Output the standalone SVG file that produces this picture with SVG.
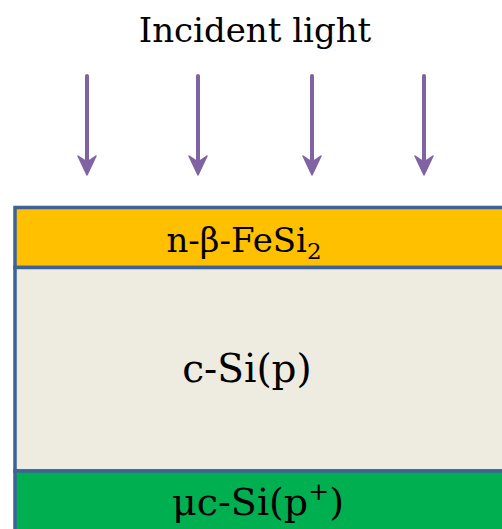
<svg xmlns="http://www.w3.org/2000/svg" width="502" height="529" viewBox="0 0 502 529">
<style>
.ar{stroke:#8064A2;stroke-width:4;fill:none;stroke-linecap:round}
.ah{fill:#8064A2;stroke:#8064A2;stroke-width:1.5;stroke-linejoin:round}
.bd{stroke:#3E6296;stroke-width:3.5}
.t{fill:#000;text-anchor:middle;font-family:'DejaVu Serif',serif}
</style>
<rect width="502" height="529" fill="#fff"/>
<text class="t" x="255" y="42" font-size="34">Incident light</text>
<g id="arrows">
<g id="a1"><line class="ar" x1="87" y1="76" x2="87" y2="166"/><path class="ah" d="M78,156 L87,175 L96,156 L87,162 Z"/></g>
<g id="a2"><line class="ar" x1="198" y1="76" x2="198" y2="166"/><path class="ah" d="M189,156 L198,175 L207,156 L198,162 Z"/></g>
<g id="a3"><line class="ar" x1="312" y1="76" x2="312" y2="166"/><path class="ah" d="M303,156 L312,175 L321,156 L312,162 Z"/></g>
<g id="a4"><line class="ar" x1="424" y1="76" x2="424" y2="166"/><path class="ah" d="M415,156 L424,175 L433,156 L424,162 Z"/></g>
</g>
<g id="n-FeSi2">
<rect x="15" y="207.5" width="500" height="60" fill="#FFC000" class="bd"/>
<text class="t" x="244" y="252" font-size="34">n-β-FeSi<tspan font-size="23" dy="7">2</tspan></text>
</g>
<g id="c-Si">
<rect x="15" y="267.5" width="500" height="203.5" fill="#EEECE1" class="bd"/>
<text class="t" x="247" y="382" font-size="39">c-Si(p)</text>
</g>
<g id="uc-Si">
<rect x="15" y="471" width="500" height="70" fill="#00B050" class="bd"/>
<text class="t" x="258" y="515" font-size="38">μc-Si(p<tspan font-size="25" dy="-15">+</tspan><tspan dy="15">)</tspan></text>
</g>
</svg>
